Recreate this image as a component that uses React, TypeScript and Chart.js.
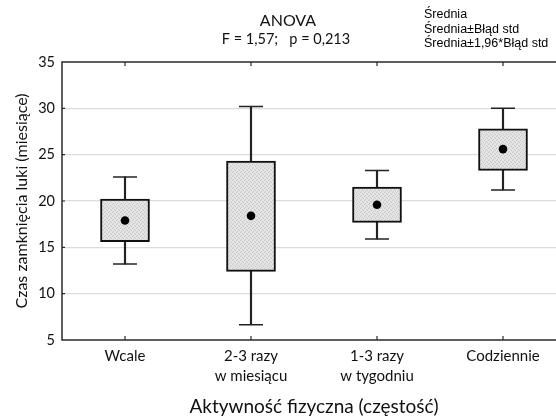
import React, { useEffect, useRef } from 'react';
import { Chart, registerables } from 'chart.js';

Chart.register(...registerables);

// Groups of physical activity frequency
const categories: string[][] = [
  ['Wcale'],
  ['2-3 razy', 'w miesiącu'],
  ['1-3 razy', 'w tygodniu'],
  ['Codziennie'],
];
// Mean gap closing time (months)
const means = [17.9, 18.4, 19.6, 25.6];
// Mean ± standard error
const seLow = [15.6, 12.4, 17.7, 23.3];
const seHigh = [20.2, 24.3, 21.5, 27.8];
// Mean ± 1.96 * standard error
const ciLow = [13.2, 6.65, 15.9, 21.2];
const ciHigh = [22.6, 30.2, 23.3, 30.0];
// Value axis
const yMin = 5;
const yMax = 35;
const yStep = 5;

const titleLines = ['ANOVA', 'F = 1,57;   p = 0,213'];
const legendLines = ['Średnia', 'Średnia±Błąd std', 'Średnia±1,96*Błąd std'];

const CANVAS_W = 590;
const CANVAS_H = 419;

function makeStipple(ctx: CanvasRenderingContext2D): CanvasPattern | string {
  const c = document.createElement('canvas');
  c.width = 4;
  c.height = 4;
  const g = c.getContext('2d');
  if (!g) return '#dedede';
  g.fillStyle = '#e4e4e4';
  g.fillRect(0, 0, 4, 4);
  g.fillStyle = '#c8c8c8';
  g.fillRect(0, 0, 1, 1);
  g.fillRect(2, 1, 1, 1);
  g.fillRect(1, 3, 1, 1);
  g.fillRect(3, 2, 1, 1);
  return ctx.createPattern(c, 'repeat') || '#dedede';
}

const framePlugin = {
  id: 'frameAndText',
  afterDatasetsDraw(chart: any) {
    const { ctx, chartArea } = chart;
    const { left, right, top, bottom } = chartArea;
    const xs = chart.scales.x;
    const ys = chart.scales.y;
    ctx.save();
    ctx.strokeStyle = '#2a2a2a';
    ctx.lineWidth = 1.5;
    ctx.strokeRect(left, top, right - left, bottom - top);
    ctx.lineWidth = 1.2;
    ctx.beginPath();
    for (let i = 0; i < categories.length; i++) {
      const x = xs.getPixelForValue(i);
      ctx.moveTo(x, top);
      ctx.lineTo(x, top + 4);
      ctx.moveTo(x, bottom);
      ctx.lineTo(x, bottom - 4);
    }
    for (let v = yMin + yStep; v < yMax; v += yStep) {
      const y = ys.getPixelForValue(v);
      ctx.moveTo(left, y);
      ctx.lineTo(left + 3, y);
    }
    ctx.stroke();
    ctx.restore();
  },
  afterDraw(chart: any) {
    const { ctx } = chart;
    ctx.save();
    ctx.fillStyle = '#111';
    ctx.textAlign = 'center';
    ctx.textBaseline = 'middle';
    ctx.font = '16px Lato';
    ctx.fillText(titleLines[0], 288, 21);
    ctx.font = '14.5px Lato';
    ctx.fillText(titleLines[1], 286, 39);
    ctx.textAlign = 'left';
    ctx.font = '12.5px "Liberation Sans"';
    ctx.fillStyle = '#000';
    legendLines.forEach((t, i) => ctx.fillText(t, 424, 15 + i * 14.5));
    ctx.restore();
  },
};

export default function App() {
  const ref = useRef<HTMLCanvasElement | null>(null);

  useEffect(() => {
    const canvas = ref.current;
    if (!canvas) return;
    const ctx = canvas.getContext('2d');
    if (!ctx) return;
    const stipple = makeStipple(ctx);

    const chart = new Chart(canvas, {
      data: {
        labels: categories,
        datasets: [
          {
            type: 'bar',
            label: 'whisker',
            data: ciLow.map((l, i) => [l, ciHigh[i]]),
            backgroundColor: '#222',
            borderWidth: 0,
            barThickness: 1.5,
            order: 3,
          },
          {
            type: 'bar',
            label: 'box',
            data: seLow.map((l, i) => [l, seHigh[i]]),
            backgroundColor: stipple as any,
            borderColor: '#111',
            borderWidth: 2,
            borderSkipped: false,
            barThickness: 49,
            order: 2,
          },
          {
            type: 'line',
            label: 'capLow',
            data: ciLow,
            showLine: false,
            pointStyle: 'line',
            pointRadius: 12,
            pointBorderWidth: 1.5,
            pointBorderColor: '#222',
            order: 1,
          },
          {
            type: 'line',
            label: 'capHigh',
            data: ciHigh,
            showLine: false,
            pointStyle: 'line',
            pointRadius: 12,
            pointBorderWidth: 1.5,
            pointBorderColor: '#222',
            order: 1,
          },
          {
            type: 'line',
            label: 'mean',
            data: means,
            showLine: false,
            pointStyle: 'circle',
            pointRadius: 4.3,
            pointBorderWidth: 0,
            pointBackgroundColor: '#000',
            order: 0,
          },
        ] as any,
      },
      options: {
        responsive: false,
        animation: false,
        layout: { padding: { top: 62, right: CANVAS_W - 566, left: 0, bottom: 0 } },
        datasets: { bar: { grouped: false } } as any,
        plugins: { legend: { display: false }, tooltip: { enabled: false }, title: { display: false } },
        scales: {
          x: {
            type: 'category',
            offset: true,
            grid: { display: false, drawTicks: false },
            border: { display: false },
            ticks: { color: '#111', font: { family: 'Lato', size: 15, lineHeight: 1.33 }, padding: 6 },
            title: {
              display: true,
              text: 'Aktywność fizyczna (częstość)',
              color: '#111',
              font: { family: 'Lato', size: 19 },
              padding: { top: 0, bottom: 1 },
            },
            afterFit: (s: any) => {
              s.height = CANVAS_H - 340;
            },
          },
          y: {
            type: 'linear',
            min: yMin,
            max: yMax,
            grid: {
              drawTicks: false,
              color: (c: any) =>
                c.tick && (c.tick.value === yMin || c.tick.value === yMax) ? 'rgba(0,0,0,0)' : '#dcdcdc',
              lineWidth: 1.2,
            },
            border: { display: false },
            ticks: { stepSize: yStep, color: '#111', font: { family: 'Lato', size: 14.5 }, padding: 7 },
            title: {
              display: true,
              text: 'Czas zamknięcia luki (miesiące)',
              color: '#111',
              font: { family: 'Lato', size: 16 },
              padding: { top: 12, bottom: 0 },
            },
            afterFit: (s: any) => {
              s.width = 62;
            },
          },
        },
      } as any,
      plugins: [framePlugin],
    });
    return () => chart.destroy();
  }, []);

  return (
    <div
      style={{
        position: 'fixed',
        left: 0,
        top: 0,
        width: 556,
        height: 419,
        overflow: 'hidden',
        background: '#fff',
      }}
    >
      <canvas ref={ref} width={CANVAS_W} height={CANVAS_H} style={{ display: 'block' }} />
    </div>
  );
}
